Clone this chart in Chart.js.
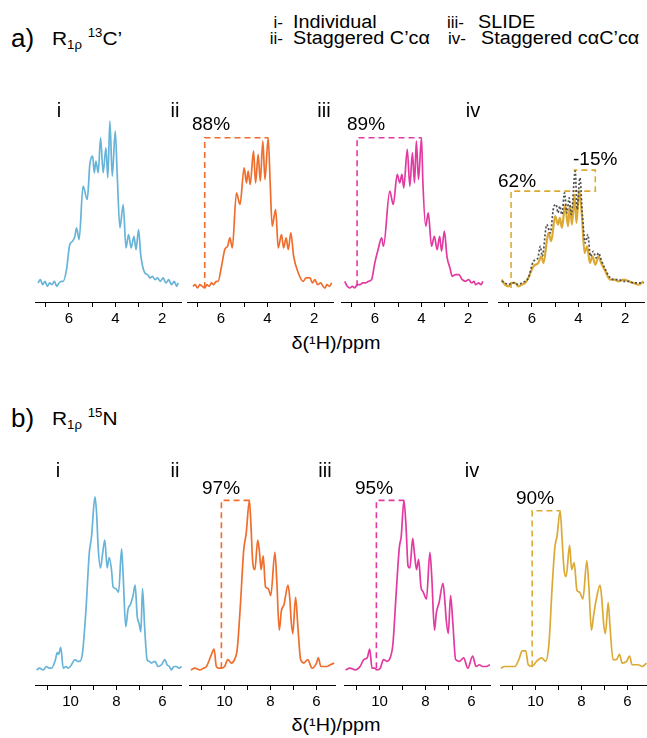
<!DOCTYPE html>
<html><head><meta charset="utf-8">
<script src="https://cdn.jsdelivr.net/npm/chart.js@4"></script>
<style>
body{margin:0;background:#fff;width:647px;height:738px;position:relative;overflow:hidden;font-family:'Liberation Sans',Arial,Helvetica,sans-serif;color:#000;}
canvas{position:absolute;}
.t{position:absolute;white-space:nowrap;line-height:1;transform:translateY(-50%);}
.s{position:absolute;white-space:nowrap;line-height:1;transform-origin:0 50%;transform:translateY(-50%) scaleX(1.1);}
.c{position:absolute;white-space:nowrap;line-height:1;transform:translate(-50%,-50%);}
.cs{position:absolute;white-space:nowrap;line-height:1;transform:translate(-50%,-50%) scaleX(1.1);}
sub,sup{font-size:12px;line-height:0;}
</style></head><body>
<script>
// ---------- data: row a) R1rho 13C' ----------
const a1_ppm = [7.32,7.22,7.12,7.02,6.92,6.82,6.72,6.62,6.52,6.42,
  6.32,6.24,6.10,5.96,5.84,5.74,5.67,5.56,5.39,5.21,
  5.10,4.98,4.91,4.84,4.74,4.64,4.53,4.41,4.33,4.24,
  4.14,4.01,3.93,3.81,3.67,3.55,3.44,3.33,3.21,3.12,
  3.01,2.92,2.74,2.62,2.52,2.42,2.31,2.20,2.08,1.96,
  1.84,1.72,1.60,1.48,1.38,1.31];
const a1_int = [3,5,2,4,1,3,2,4,1,3,
  4,4,11,26,28,31,36,29,61,53,
  74,79,69,76,69,90,69,84,66,100,
  67,94,69,36,50,24,32,24,31,23,
  35,20,9,8,6,7,5,6,4,6,
  3,5,2,4,1,3];

const a2_ppm = [7.19,7.10,7.00,6.90,6.80,6.69,6.60,6.50,6.40,6.30,
  6.20,6.12,5.97,5.83,5.71,5.61,5.51,5.33,5.18,5.00,
  4.90,4.83,4.74,4.60,4.51,4.40,4.31,4.20,4.11,3.97,
  3.88,3.80,3.65,3.54,3.40,3.31,3.20,3.11,3.00,2.88,
  2.68,2.47,2.35,2.18,2.07,1.97,1.85,1.72,1.62,1.54,
  1.45,1.35,1.25];
const a2_int = [1,2,0,2,1,0,2,1,3,2,
  4,4,13,23,25,30,24,57,50,72,
  63,70,62,82,63,80,64,88,65,90,
  61,37,47,24,32,24,30,23,33,19,
  9,4,6,6,3,5,2,3,1,0,
  2,1,3];

const a3_ppm = [7.29,7.18,7.07,6.96,6.86,6.76,6.64,6.52,6.40,6.27,
  6.14,6.00,5.86,5.71,5.63,5.36,5.21,5.04,4.93,4.84,
  4.76,4.61,4.50,4.39,4.30,4.22,4.13,4.00,3.94,3.82,
  3.71,3.57,3.45,3.33,3.22,3.14,3.02,2.91,2.78,2.68,
  2.55,2.40,2.25,2.11,1.98,1.85,1.75,1.68,1.55,1.45,
  1.37];
const a3_int = [4,1,0,1,0,2,2,3,3,4,
  5,15,23,30,25,58,50,68,63,68,
  60,83,61,81,63,88,65,90,63,37,
  45,25,31,23,31,22,34,19,12,7,
  8,8,5,4,5,3,4,2,3,2,
  4];

const a4_ppm = [7.29,7.15,7.00,6.86,6.72,6.58,6.43,6.29,6.15,5.93,
  5.72,5.60,5.50,5.29,5.17,5.00,4.88,4.80,4.71,4.57,
  4.45,4.37,4.28,4.17,4.09,3.97,3.85,3.74,3.63,3.51,
  3.40,3.28,3.14,3.03,2.88,2.64,2.46,2.28,2.06,1.85,
  1.64,1.42,1.21];
const a4_int = [5,2,1,3,3,1,2,3,6,13,
  15,19,15,33,28,43,38,42,36,50,
  37,49,38,56,39,58,43,21,25,15,
  19,14,19,15,11,5,5,4,5,4,
  3,2,4];

const a4ref_ppm = [7.29,7.15,7.00,6.86,6.72,6.58,6.43,6.29,6.15,5.93,
  5.74,5.64,5.55,5.36,5.21,5.07,4.96,4.88,4.80,4.71,
  4.60,4.50,4.40,4.31,4.14,4.06,3.94,3.83,3.71,3.60,
  3.49,3.37,3.25,3.14,3.03,2.88,2.64,2.46,2.28,2.06,
  1.85,1.64,1.42,1.21];
const a4ref_int = [4,3,2,3,3,2,3,4,6,16,
  18,25,19,38,33,48,50,45,49,44,
  57,45,54,44,70,47,66,43,27,32,
  19,22,18,21,17,12,6,5,5,4,
  4,3,3,3];

// dashed guide boxes (ppm, intensity)
const a2_box_ppm = [6.69,6.69,3.97];  const a2_box_int = [0,90,90];
const a3_box_ppm = [6.76,6.76,4.00];  const a3_box_int = [1,90,90];
const a4_box_ppm = [6.89,6.89,3.28,3.28,4.21]; const a4_box_int = [0,58,58,70.6,70.6];

// ---------- data: row b) R1rho 15N ----------
const b1_ppm = [11.48,11.35,11.19,11.05,10.93,10.83,10.68,10.58,10.52,10.43,
  10.32,10.20,10.10,9.96,9.81,9.70,9.60,9.48,9.33,9.19,
  9.09,8.94,8.87,8.80,8.70,8.61,8.51,8.41,8.32,8.22,
  8.15,8.03,7.91,7.78,7.71,7.60,7.50,7.39,7.28,7.19,
  7.10,7.02,6.94,6.87,6.77,6.67,6.58,6.48,6.33,6.19,
  6.04,5.90,5.80,5.70,5.61,5.50,5.39,5.28,5.17];
const b1_int = [0,1,0,2,1,1,5,10,9,13,
  1,2,1,3,6,5,5,10,35,67,
  77,100,91,71,59,67,75,59,65,58,
  48,47,45,70,54,25,35,38,43,49,
  31,27,22,47,23,6,5,4,5,2,
  3,6,3,2,0,2,2,1,2];

const b2_ppm = [11.47,11.30,11.08,10.92,10.79,10.60,10.46,10.36,10.25,10.14,
  10.00,9.86,9.71,9.57,9.45,9.31,9.17,9.06,8.92,8.85,
  8.78,8.68,8.56,8.48,8.41,8.32,8.22,8.10,7.99,7.81,
  7.73,7.62,7.53,7.41,7.24,7.16,7.10,7.03,6.91,6.81,
  6.69,6.55,6.38,6.19,6.00,5.92,5.81,5.68,5.55,5.40,
  5.23];
const b2_int = [0,1,0,1,2,8,12,2,1,1,
  2,6,4,6,12,38,69,79,98,83,
  63,58,75,68,58,66,48,47,43,68,
  52,23,34,38,49,41,28,21,42,25,
  6,4,6,1,4,7,2,2,2,3,
  4];

const b3_ppm = [11.48,11.30,11.05,10.85,10.69,10.54,10.43,10.33,10.22,10.11,
  9.97,9.83,9.68,9.54,9.42,9.28,9.14,9.06,8.94,8.85,
  8.76,8.68,8.56,8.48,8.39,8.30,8.20,8.10,7.96,7.81,
  7.73,7.61,7.53,7.41,7.24,7.16,7.10,7.01,6.91,6.81,
  6.69,6.52,6.34,6.16,5.95,5.80,5.66,5.52,5.36,5.20];
const b3_int = [0,1,0,2,6,7,12,1,1,0,
  1,6,5,7,15,44,71,77,98,83,
  60,59,76,67,58,64,48,45,41,68,
  54,23,33,39,50,40,29,21,43,27,
  6,5,7,1,8,2,3,2,2,3];

const b4_ppm = [11.51,11.35,11.19,10.90,10.73,10.58,10.43,10.32,10.15,9.96,
  9.74,9.57,9.42,9.28,9.16,9.07,8.93,8.84,8.76,8.67,
  8.52,8.43,8.32,8.20,8.09,7.94,7.77,7.68,7.57,7.48,
  7.37,7.19,7.10,7.04,6.96,6.84,6.76,6.63,6.48,6.35,
  6.23,6.04,5.91,5.80,5.67,5.54,5.35,5.17];
const b4_int = [1,2,2,2,6,11,11,3,2,5,
  7,5,15,48,71,77,92,74,58,54,
  72,58,62,46,45,41,63,48,23,31,
  40,49,38,27,21,39,25,6,6,9,
  4,5,8,3,3,3,2,4];

const b2_box_ppm = [10.14,10.14,8.92]; const b2_box_int = [1,98,98];
const b3_box_ppm = [10.14,10.14,8.94]; const b3_box_int = [1,98,98];
const b4_box_ppm = [10.15,10.15,8.93]; const b4_box_int = [2,92,92];

// tick labels shown
const topTickLabels = [6,4,2];
const botTickLabels = [10,8,6];

// ---------- drawing ----------
const FONT = "'Liberation Sans', Arial, Helvetica, sans-serif";
const BLUE = 'rgb(104,180,216)', ORANGE = 'rgb(240,110,45)', PINK = 'rgb(226,58,160)', GOLD = 'rgb(220,170,52)', GRAY = 'rgb(80,80,80)';

function pts(xs, ys){ return xs.map((x,i)=>({x:x, y:ys[i]})); }
function trace(xs, ys, color, extra){ return Object.assign({data:pts(xs,ys), borderColor:color, borderWidth:1.7, pointRadius:0, cubicInterpolationMode:'monotone', fill:false}, extra||{}); }
function box(xs, ys, color){ return {data:pts(xs,ys), borderColor:color, borderWidth:1.6, borderDash:[6,4], pointRadius:0, tension:0, fill:false, order:2}; }

function panel(left, top, area, xmin, xmax, ymin, ymax, labels, datasets){
  const c = document.createElement('canvas');
  const W = 147, H = area + 30;
  c.width = W; c.height = H;
  c.style.left = left + 'px'; c.style.top = top + 'px';
  c.style.width = W + 'px'; c.style.height = H + 'px';
  document.body.appendChild(c);
  new Chart(c, {
    type: 'line',
    data: {datasets: datasets},
    options: {
      responsive:false, animation:false, devicePixelRatio:1,
      layout:{padding:0},
      plugins:{legend:{display:false}, tooltip:{enabled:false}},
      scales:{
        x:{type:'linear', min:xmin, max:xmax, reverse:true,
          ticks:{stepSize:1, includeBounds:false, autoSkip:false, maxRotation:0, minRotation:0, color:'#000', padding:3,
            font:{family:FONT, size:15},
            callback:(v)=> labels.includes(Math.round(v)) ? String(Math.round(v)) : ''},
          grid:{drawOnChartArea:false, drawTicks:true, tickLength:5, color:'#000', lineWidth:1},
          border:{display:true, color:'#000', width:1},
          afterFit:(s)=>{ s.height = 30; }
        },
        y:{display:false, min:ymin, max:ymax}
      }
    }
  });
}

// row a
const TA = 95, AA = 207, YA0 = -8.4, YA1 = 115.6;
panel(35, TA, AA, 1.15, 7.45, YA0, YA1, topTickLabels, [trace(a1_ppm, a1_int, BLUE)]);
panel(187, TA, AA, 1.15, 7.45, YA0, YA1, topTickLabels, [trace(a2_ppm, a2_int, ORANGE, {order:1}), box(a2_box_ppm, a2_box_int, ORANGE)]);
panel(341, TA, AA, 1.15, 7.45, YA0, YA1, topTickLabels, [trace(a3_ppm, a3_int, PINK, {order:1}), box(a3_box_ppm, a3_box_int, PINK)]);
panel(498, TA, AA, 1.15, 7.45, YA0, YA1, topTickLabels, [
  trace(a4ref_ppm, a4ref_int, GRAY, {borderDash:[2,2], borderWidth:1.7, order:0}),
  trace(a4_ppm, a4_int, GOLD, {borderWidth:2.2, order:1}),
  box(a4_box_ppm, a4_box_int, GOLD)]);

// row b
const TB = 480, AB = 205, YB0 = -8.7, YB1 = 109.8;
panel(35, TB, AB, 5.15, 11.55, YB0, YB1, botTickLabels, [trace(b1_ppm, b1_int, BLUE)]);
panel(189, TB, AB, 5.15, 11.55, YB0, YB1, botTickLabels, [trace(b2_ppm, b2_int, ORANGE, {order:1}), box(b2_box_ppm, b2_box_int, ORANGE)]);
panel(344, TB, AB, 5.15, 11.55, YB0, YB1, botTickLabels, [trace(b3_ppm, b3_int, PINK, {order:1}), box(b3_box_ppm, b3_box_int, PINK)]);
panel(500, TB, AB, 5.15, 11.55, YB0, YB1, botTickLabels, [trace(b4_ppm, b4_int, GOLD, {order:1}), box(b4_box_ppm, b4_box_int, GOLD)]);
</script>

<!-- headers -->
<div class="t" style="left:11px;top:38px;font-size:26px">a)</div>
<div class="s" style="left:52px;top:38px;font-size:19px">R<sub>1ρ</sub> <sup>13</sup>C’</div>
<div class="t" style="left:11px;top:418px;font-size:26px">b)</div>
<div class="s" style="left:52px;top:418px;font-size:19px">R<sub>1ρ</sub> <sup>15</sup>N</div>

<!-- legend -->
<div class="t" style="left:240px;width:43px;text-align:right;top:22px;font-size:17px">i-</div>
<div class="s" style="left:293px;top:22px;font-size:18px">Individual</div>
<div class="t" style="left:240px;width:43px;text-align:right;top:38px;font-size:17px">ii-</div>
<div class="s" style="left:293px;top:38px;font-size:18px">Staggered C’cα</div>
<div class="t" style="left:447px;top:22px;font-size:17px">iii-</div>
<div class="s" style="left:478px;top:22px;font-size:18px">SLIDE</div>
<div class="t" style="left:448px;top:38px;font-size:17px">iv-</div>
<div class="s" style="left:481px;top:38px;font-size:18px">Staggered cαC’cα</div>

<!-- panel numerals -->
<div class="c" style="left:59px;top:110px;font-size:20px">i</div>
<div class="c" style="left:175px;top:110px;font-size:20px">ii</div>
<div class="c" style="left:324px;top:110px;font-size:20px">iii</div>
<div class="c" style="left:473px;top:110px;font-size:20px">iv</div>
<div class="c" style="left:58px;top:470px;font-size:20px">i</div>
<div class="c" style="left:175px;top:470px;font-size:20px">ii</div>
<div class="c" style="left:325px;top:470px;font-size:20px">iii</div>
<div class="c" style="left:472px;top:470px;font-size:20px">iv</div>

<!-- percentages -->
<div class="t" style="left:192px;top:123px;font-size:19px">88%</div>
<div class="t" style="left:347px;top:123px;font-size:19px">89%</div>
<div class="t" style="left:498px;top:180px;font-size:19px">62%</div>
<div class="t" style="left:573px;top:158px;font-size:19px">-15%</div>
<div class="t" style="left:202px;top:487px;font-size:19px">97%</div>
<div class="t" style="left:355px;top:487px;font-size:19px">95%</div>
<div class="t" style="left:516px;top:497px;font-size:19px">90%</div>

<!-- axis titles -->
<div class="cs" style="left:336px;top:343px;font-size:18px">δ(¹H)/ppm</div>
<div class="cs" style="left:336px;top:725px;font-size:18px">δ(¹H)/ppm</div>
</body></html>
